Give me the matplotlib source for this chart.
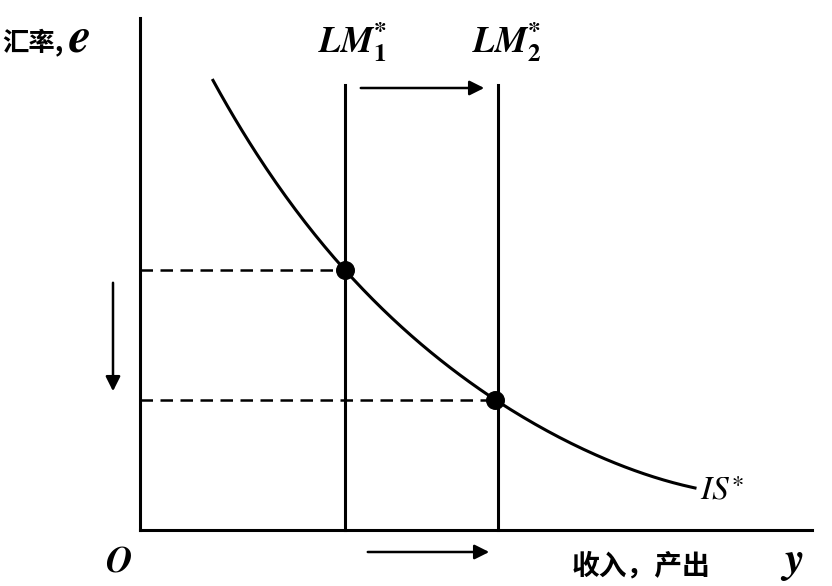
import numpy as np
import matplotlib.pyplot as plt

plt.rcParams['font.family'] = ['Noto Sans CJK SC', 'DejaVu Sans']
plt.rcParams['mathtext.fontset'] = 'stix'

# schematic in pixel-like units (y grows downward)
origin = (140, 530)
x_end, y_top = 812, 18
lm_x = [345, 498]
lm_top = 85
eq_x = [345, 495]
eq_y = [270, 400]
is_x = [213, 260, 300, 345, 400, 450, 495, 550, 620, 695]
is_y = [80, 160, 215, 270, 325, 368, 400, 432, 465, 488]

fig = plt.figure(figsize=(8.32, 5.86), dpi=100)
ax = fig.add_axes([0, 0, 1, 1])
ax.set_xlim(0, 832)
ax.set_ylim(586, 0)
ax.axis('off')

k = dict(color='black', lw=2.2)
ax.plot([origin[0], origin[0]], [origin[1], y_top], **k)
ax.plot([origin[0], x_end], [origin[1], origin[1]], **k)
for x in lm_x:
    ax.plot([x, x], [lm_top, origin[1]], **k)

c = np.polyfit(is_x, is_y, 4)
xs = np.linspace(is_x[0], is_x[-1], 200)
ax.plot(xs, np.polyval(c, xs), **k)

for x, y in zip(eq_x, eq_y):
    ax.plot([origin[0], x], [y, y], color='black', lw=1.8, ls=(0, (5, 3)))
ax.scatter(eq_x, eq_y, s=160, color='black', zorder=5)

ap = dict(arrowstyle='-|>', color='black', lw=1.8, mutation_scale=22)
ax.annotate('', xy=(487, 88), xytext=(358, 88), arrowprops=ap)
ax.annotate('', xy=(492, 552), xytext=(365, 552), arrowprops=ap)
ax.annotate('', xy=(113, 394), xytext=(113, 280), arrowprops=ap)

ax.text(2, 42, '汇率,', fontsize=19, va='center', fontweight='bold')
ax.text(68, 38, r'$\mathbfit{e}$', fontsize=36, va='center')
ax.text(318, 42, r'$\mathbfit{LM}_\mathbf{1}^{\mathbf{*}}$', fontsize=26, va='center')
ax.text(472, 42, r'$\mathbfit{LM}_\mathbf{2}^{\mathbf{*}}$', fontsize=26, va='center')
ax.text(700, 490, r'$\mathit{IS}^{\ast}$', fontsize=24, va='center')
ax.text(105, 562, r'$\mathbfit{O}$', fontsize=26, va='center')
ax.text(572, 566, '收入，产出', fontsize=20, va='center', fontweight='bold')
ax.text(780, 560, r'$\mathbfit{y}$', fontsize=32, va='center')

fig.savefig('out.png', dpi=100)
